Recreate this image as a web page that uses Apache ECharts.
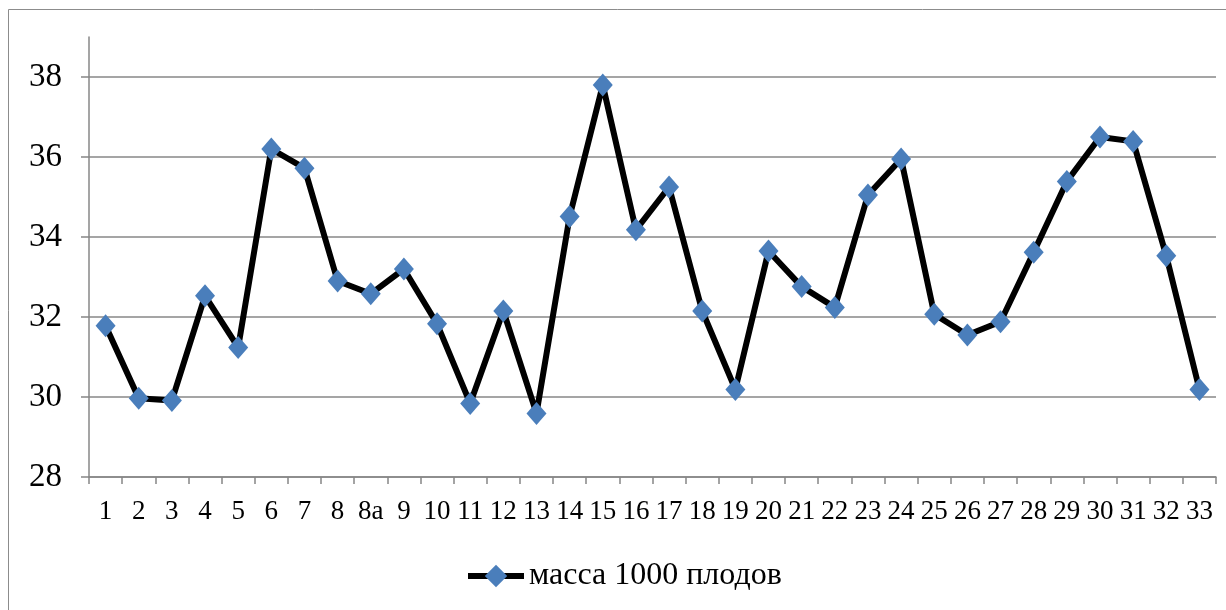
<!DOCTYPE html>
<html>
<head>
<meta charset="utf-8">
<script src="https://cdn.jsdelivr.net/npm/echarts@6/dist/echarts.min.js"></script>
<style>
  html, body { margin: 0; padding: 0; background: #fff; }
  #chart { width: 1226px; height: 610px; }
</style>
</head>
<body>
<div id="chart"></div>
<script>
// Sample numbers along the x axis
const categories = ['1','2','3','4','5','6','7','8','8a','9','10','11','12','13','14','15','16','17',
  '18','19','20','21','22','23','24','25','26','27','28','29','30','31','32','33'];

// Mass of 1000 fruits, g
const seriesName = 'масса 1000 плодов';
const massValues = [31.78, 29.97, 29.91, 32.53, 31.24, 36.2, 35.72, 32.9, 32.58, 33.2,
  31.83, 29.84, 32.15, 29.59, 34.51, 37.8, 34.18, 35.25, 32.15, 30.19,
  33.65, 32.76, 32.24, 35.05, 35.95, 32.07, 31.55, 31.88, 33.62, 35.39,
  36.5, 36.39, 33.53, 30.19];

// Y axis tick labels
const yTicks = [28, 30, 32, 34, 36, 38];

const FONT = '"Liberation Serif", "Times New Roman", serif';
const GRAY = '#878787';

const chart = echarts.init(document.getElementById('chart'), null, { renderer: 'canvas' });

chart.setOption({
  animation: false,
  backgroundColor: '#ffffff',
  graphic: [{
    type: 'rect',
    shape: { x: 8.5, y: 9.5, width: 1300, height: 700 },
    style: { fill: 'none', stroke: '#8c8c8c', lineWidth: 1 },
    silent: true
  }],
  grid: { left: 89, right: 10, top: 37, bottom: 133, containLabel: false },
  legend: {
    left: 460,
    top: 555,
    padding: 5,
    itemWidth: 56,
    itemHeight: 28,
    itemGap: 10,
    lineStyle: { width: 6, color: '#000' },
    itemStyle: { color: '#4a7ebb' },
    textStyle: { fontFamily: FONT, fontSize: 32, color: '#000' },
    data: [seriesName]
  },
  xAxis: {
    type: 'category',
    data: categories,
    boundaryGap: true,
    axisLine: { lineStyle: { color: GRAY, width: 1.5 } },
    axisTick: { show: true, interval: 0, length: 7, lineStyle: { color: GRAY, width: 1.5 } },
    axisLabel: { interval: 0, margin: 21, fontFamily: FONT, fontSize: 27, color: '#000' },
    splitLine: { show: false }
  },
  yAxis: {
    type: 'value',
    min: 28,
    max: 39,
    interval: 2,
    axisLine: { show: true, lineStyle: { color: GRAY, width: 1.5 } },
    axisTick: { show: true, length: 8, customValues: yTicks, lineStyle: { color: GRAY, width: 1.5 } },
    axisLabel: { margin: 27, customValues: yTicks, fontFamily: FONT, fontSize: 33, color: '#000' },
    splitLine: {
      show: true,
      lineStyle: { color: [GRAY, GRAY, GRAY, GRAY, GRAY, GRAY, 'rgba(0,0,0,0)'], width: 1.5 }
    }
  },
  series: [{
    name: seriesName,
    type: 'line',
    data: massValues,
    symbol: 'diamond',
    symbolSize: [20, 23],
    lineStyle: { color: '#000', width: 6 },
    itemStyle: { color: '#4a7ebb' },
    z: 3
  }]
});
</script>
</body>
</html>
